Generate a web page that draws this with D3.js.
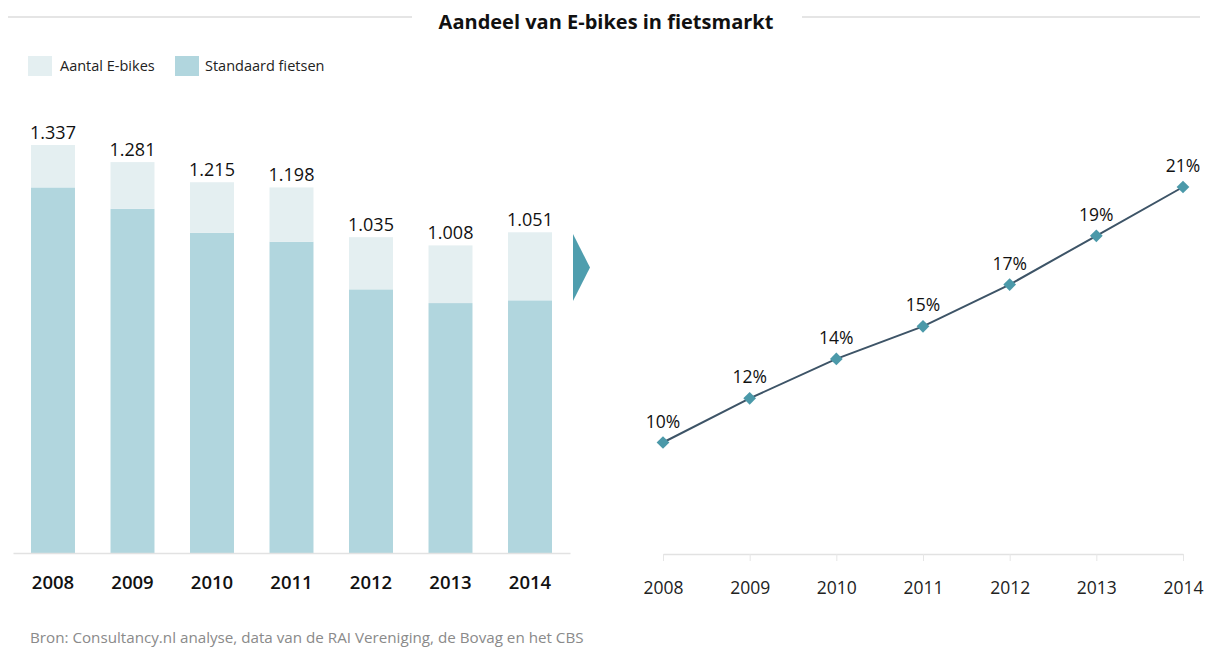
<!DOCTYPE html>
<html>
<head>
<meta charset="utf-8">
<script src="https://cdn.jsdelivr.net/npm/d3@7"></script>
<style>
  html, body { margin: 0; padding: 0; background: #fff; }
  svg { display: block; font-family: "Open Sans", "Noto Sans", sans-serif; }
</style>
</head>
<body>
<svg id="chart" width="1207" height="650"></svg>
<script>
// ---- Data ----
const years = ["2008", "2009", "2010", "2011", "2012", "2013", "2014"];
const totals = [1337, 1281, 1215, 1198, 1035, 1008, 1051];        // x1000 fietsen
const eBikes = [139, 153, 166, 178, 171, 189, 223];                // x1000
const standaard = [1198, 1128, 1049, 1020, 864, 819, 828];         // x1000
const shareEbikes = [10, 11.9, 13.6, 15, 16.8, 18.9, 21];          // %
const seriesNames = ["Aantal E-bikes", "Standaard fietsen"];
const titleText = "Aandeel van E-bikes in fietsmarkt";
const sourceText = "Bron: Consultancy.nl analyse, data van de RAI Vereniging, de Bovag en het CBS";

const svg = d3.select("#chart");
const colLight = "#e4eff1", colDark = "#b1d6de";

// ---- Title with side rules ----
svg.append("line").attr("x1", 8).attr("x2", 412).attr("y1", 17).attr("y2", 17)
  .attr("stroke", "#dcdcdc").attr("stroke-width", 1.5);
svg.append("line").attr("x1", 802).attr("x2", 1200).attr("y1", 17).attr("y2", 17)
  .attr("stroke", "#dcdcdc").attr("stroke-width", 1.5);
svg.append("text").attr("x", 606).attr("y", 29).attr("text-anchor", "middle")
  .attr("font-size", 20).attr("font-weight", 700).attr("fill", "#111").text(titleText);

// ---- Legend ----
const legend = svg.append("g");
[[28, colLight, 60], [175, colDark, 205]].forEach((d, i) => {
  legend.append("rect").attr("x", d[0]).attr("y", 56).attr("width", 24).attr("height", 20).attr("fill", d[1]);
  legend.append("text").attr("x", d[2]).attr("y", 71).attr("font-size", 14.5).attr("fill", "#222").text(seriesNames[i]);
});

// ---- Stacked bars ----
const baseY = 553;
const xb = d3.scaleBand().domain(years).range([13, 570]).paddingInner(0.447).paddingOuter(0.2266);
const yb = d3.scaleLinear().domain([0, 1337]).range([baseY, 145]);

const stackData = years.map((y, i) => ({ year: y, standaard: standaard[i], ebikes: eBikes[i] }));
const stack = d3.stack().keys(["standaard", "ebikes"])(stackData);
const colors = { standaard: colDark, ebikes: colLight };

svg.append("g").selectAll("g").data(stack).join("g")
  .attr("fill", d => colors[d.key])
  .selectAll("rect").data(d => d).join("rect")
  .attr("x", d => xb(d.data.year))
  .attr("width", xb.bandwidth())
  .attr("y", d => yb(d[1]))
  .attr("height", d => yb(d[0]) - yb(d[1]));

const fmtNL = v => d3.format(",")(v).replace(/,/g, ".");
svg.append("g").selectAll("text").data(years).join("text")
  .attr("x", d => xb(d) + xb.bandwidth() / 2)
  .attr("y", (d, i) => yb(totals[i]) - 6)
  .attr("text-anchor", "middle").attr("font-size", 18).attr("fill", "#111")
  .text((d, i) => fmtNL(totals[i]));

const xAxisB = d3.axisBottom(xb).tickSize(0).tickPadding(23);
const gxb = svg.append("g").attr("transform", `translate(0,${baseY})`).call(xAxisB);
gxb.select(".domain").attr("stroke", "#e2e2e2").attr("stroke-width", 1.5);
gxb.selectAll("text").attr("font-size", 18.5).attr("font-weight", 600).attr("fill", "#111")
  .attr("font-family", "\"Open Sans\", sans-serif");

// ---- Arrow ----
svg.append("path").attr("d", "M573,234 L590,267.5 L573,301 Z").attr("fill", "#4f9eae");

// ---- Line chart ----
const lineBase = 554;
const xl = d3.scalePoint().domain(years).range([663, 1183]);
const yl = d3.scaleLinear().domain([5.2, 21]).range([lineBase, 187]);

const xAxisL = d3.axisBottom(xl).tickSize(7).tickSizeOuter(0).tickPadding(21);
const gxl = svg.append("g").attr("transform", `translate(0,${lineBase})`).call(xAxisL);
gxl.select(".domain").attr("stroke", "#e2e2e2").attr("stroke-width", 1.5);
gxl.selectAll(".tick line").attr("stroke", "#e6e6e6").attr("stroke-width", 1);
gxl.selectAll("text").attr("font-size", 17.5).attr("fill", "#222")
  .attr("font-family", "\"Open Sans\", sans-serif");

const lineData = years.map((y, i) => ({ year: y, v: shareEbikes[i] }));
svg.append("path").datum(lineData)
  .attr("fill", "none").attr("stroke", "#3d5467").attr("stroke-width", 2)
  .attr("d", d3.line().x(d => xl(d.year)).y(d => yl(d.v)));

svg.append("g").selectAll("path").data(lineData).join("path")
  .attr("d", d3.symbol(d3.symbolSquare, 81))
  .attr("transform", d => `translate(${xl(d.year)},${yl(d.v)}) rotate(45)`)
  .attr("fill", "#4b99a9");

svg.append("g").selectAll("text").data(lineData).join("text")
  .attr("x", d => xl(d.year))
  .attr("y", d => yl(d.v) - 15)
  .attr("text-anchor", "middle").attr("font-size", 17.5).attr("fill", "#111")
  .text(d => d3.format(".0f")(d.v) + "%");

// ---- Source ----
svg.append("text").attr("x", 30).attr("y", 643).attr("font-size", 15.2).attr("fill", "#8a8a8a").text(sourceText);
</script>
</body>
</html>
